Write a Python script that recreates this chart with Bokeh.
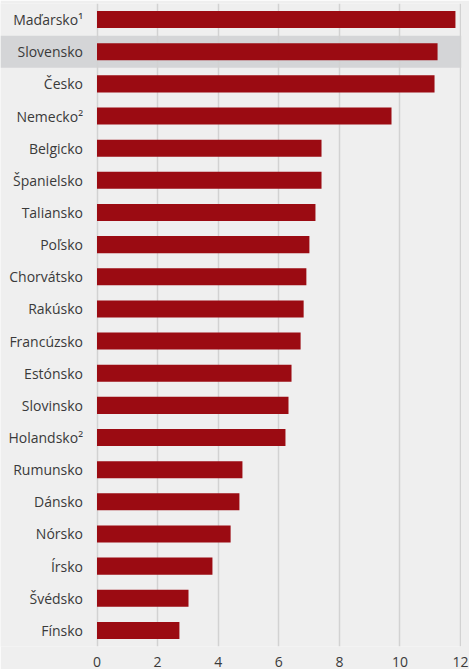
from bokeh.plotting import figure
from bokeh.models import ColumnDataSource, FixedTicker, Range1d, FactorRange
from bokeh.core.properties import value
from bokeh.embed import file_html
from bokeh.resources import INLINE

countries = ["Maďarsko¹", "Slovensko", "Česko", "Nemecko²", "Belgicko", "Španielsko",
             "Taliansko", "Poľsko", "Chorvátsko", "Rakúsko", "Francúzsko", "Estónsko",
             "Slovinsko", "Holandsko²", "Rumunsko", "Dánsko", "Nórsko", "Írsko",
             "Švédsko", "Fínsko"]
values = [11.83, 11.24, 11.14, 9.72, 7.41, 7.41, 7.21, 7.01, 6.91, 6.82, 6.72, 6.42,
          6.32, 6.22, 4.80, 4.70, 4.41, 3.81, 3.02, 2.72]
highlight = ["Slovensko"]
x_ticks = [0, 2, 4, 6, 8, 10, 12]

X_START, X_END = -3.185, 12.03
FONT = "Open Sans"

src = ColumnDataSource(dict(country=countries, val=values, zero=[0] * len(values)))

p = figure(width=469, height=669, output_backend="svg", toolbar_location=None,
           y_range=FactorRange(factors=list(reversed(countries)), range_padding=0),
           x_range=Range1d(X_START, X_END),
           min_border_left=0, min_border_right=8, min_border_top=3, min_border_bottom=22)
p.background_fill_color = "#efefef"
p.border_fill_color = "#efefef"
p.outline_line_color = None

# highlight band
band_src = ColumnDataSource(dict(y=highlight, l=[X_START] * len(highlight), r=[X_END] * len(highlight)))
band = p.hbar(y="y", left="l", right="r", height=1.0, source=band_src,
              fill_color="#d4d5d7", line_color=None)
band.level = "image"

p.hbar(y="country", left=0, right="val", height=0.53, source=src,
       fill_color="#9b0b12", line_color=None)

p.text(x="zero", y="country", text="country", source=src, x_offset=-14,
       text_align="right", text_baseline="middle", text_font=value(FONT),
       text_font_size="14px", text_color="#3a3a3a")

p.yaxis.visible = False
p.ygrid.visible = False

ax = p.xaxis[0]
ax.ticker = FixedTicker(ticks=x_ticks)
ax.axis_line_color = None
ax.major_tick_line_color = None
ax.minor_tick_line_color = None
ax.major_label_text_font = FONT
ax.major_label_text_font_size = "14px"
ax.major_label_text_color = "#3a3a3a"
ax.major_label_standoff = 4

p.xgrid.ticker = FixedTicker(ticks=x_ticks)
p.xgrid.grid_line_color = "#d2d2d2"
p.xgrid.grid_line_width = 1.5

open("out.html", "w").write(file_html(p, INLINE))
